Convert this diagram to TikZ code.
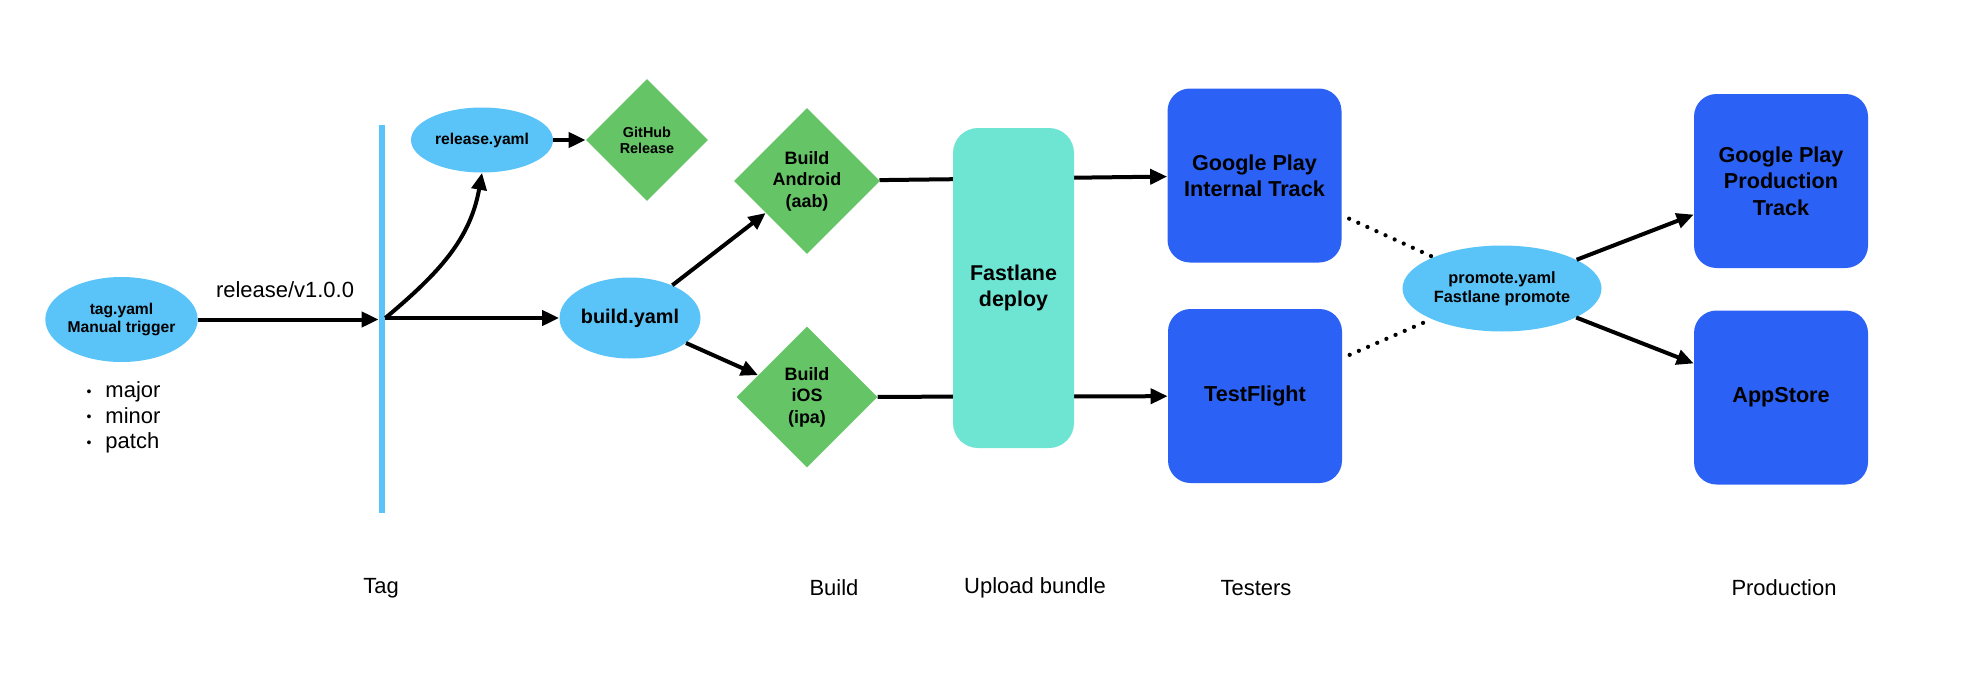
\documentclass[tikz,border=0pt]{standalone}
\usepackage{fontspec}
\setmainfont{Liberation Sans}
\usetikzlibrary{shapes.geometric,arrows.meta,positioning,backgrounds}
\definecolor{yamlcolor}{RGB}{90,196,248}
\definecolor{buildcolor}{RGB}{101,196,102}
\definecolor{fastcolor}{RGB}{110,228,210}
\definecolor{storecolor}{RGB}{44,97,246}
\newcommand{\bumpdot}{\raisebox{0.9pt}{\footnotesize\textbullet}}

\begin{document}
\begin{tikzpicture}[
    yamlnode/.style={ellipse, fill=yamlcolor, inner sep=0pt, align=center, font=\bfseries},
    buildstep/.style={diamond, fill=buildcolor, inner sep=0pt, align=center, font={\bfseries\fontsize{10.2}{12.2}\selectfont}},
    storebox/.style={rectangle, rounded corners=0.45cm, fill=storecolor, minimum width=3.48cm, minimum height=3.48cm, align=center, font={\bfseries\fontsize{12.3}{14.8}\selectfont}},
    stagelabel/.style={font={\fontsize{12.5}{14.5}\selectfont}},
    arrow/.style={->, >={Triangle[length=0.34cm, width=0.3cm]}, line width=0.08cm},
    dotline/.style={line width=0.085cm, line cap=round, dash pattern=on 0pt off 0.2cm, shorten <=0.16cm}
]
\useasboundingbox (0,0) rectangle (39.24,13.9);

% Tag
\node[yamlnode, minimum width=2.82cm, minimum height=1.70cm, font={\bfseries\fontsize{8.9}{10.2}\selectfont}] (tag) at (2.43, 7.51) {tag.yaml\\Manual trigger};
\node[stagelabel] (bumps) at (2.47, 5.54) {\begin{tabular}{@{}l@{\hspace{0.28cm}}l@{}}\bumpdot & major\\ \bumpdot & minor\\ \bumpdot & patch\end{tabular}};
\node[fill=yamlcolor, minimum width=0.12cm, minimum height=7.76cm, inner sep=0pt] (tagbar) at (7.64, 7.52) {};
\node[stagelabel] (branch) at (5.70, 8.10) {release/v1.0.0};
\node[yamlnode, minimum width=2.84cm, minimum height=1.30cm, font={\bfseries\fontsize{8.9}{10}\selectfont}] (release) at (9.64, 11.10) {release.yaml};
\node[buildstep, minimum width=2.44cm, minimum height=2.44cm, font={\bfseries\fontsize{8.2}{9.1}\selectfont}] (github) at (12.94, 11.10) {GitHub\\Release};

% Build
\node[yamlnode, minimum width=2.82cm, minimum height=1.62cm, font={\bfseries\fontsize{11.3}{13}\selectfont}] (build) at (12.60, 7.54) {build.yaml};
\node[buildstep, minimum width=2.92cm, minimum height=2.92cm] (android) at (16.14, 10.28) {Build\\Android\\(aab)};
\node[buildstep, minimum width=2.82cm, minimum height=2.82cm] (ios) at (16.14, 5.96) {Build\\iOS\\(ipa)};

% Upload bundle
\node[rectangle, rounded corners=0.5cm, fill=fastcolor, minimum width=2.42cm, minimum height=6.40cm, align=center, font={\bfseries\fontsize{12.2}{14.8}\selectfont}] (fastlane) at (20.27, 8.14) {Fastlane\\deploy};

% Testers
\node[storebox] (gpint) at (25.09, 10.39) {Google Play\\Internal Track};
\node[storebox] (testflight) at (25.10, 5.98) {TestFlight};
\node[yamlnode, minimum width=3.98cm, minimum height=1.72cm, font={\bfseries\fontsize{9.3}{10.6}\selectfont}] (promote) at (30.04, 8.13) {promote.yaml\\Fastlane promote};

% Production
\node[storebox, font={\bfseries\fontsize{12.3}{15}\selectfont}] (gpprod) at (35.62, 10.28) {Google Play\\Production\\Track};
\node[storebox] (appstore) at (35.62, 5.95) {AppStore};

% Stage labels
\node[stagelabel] (lbltag) at (7.62, 2.14) {Tag};
\node[stagelabel] (lblbuild) at (16.68, 2.14) {Build};
\node[stagelabel] (lblupload) at (20.70, 2.14) {Upload bundle};
\node[stagelabel] (lbltesters) at (25.12, 2.14) {Testers};
\node[stagelabel] (lblprod) at (35.68, 2.14) {Production};

% Connectors
\coordinate (split) at (tagbar.east |- build);
\draw[arrow] (tag) -- (tag -| tagbar.west);
\draw[arrow] (split) -- (build);
\draw[arrow] (split) to[out=40, in=-100] (release.south);
\draw[arrow] (release) -- (github);
\draw[arrow] (build) -- (android);
\draw[arrow] (build) -- (ios);
\begin{scope}[on background layer]
    \draw[arrow] (android) -- (gpint);
    \draw[arrow] (ios) -- (testflight);
\end{scope}
\draw[dotline] (gpint) -- (promote);
\draw[dotline] (testflight) -- (promote);
\draw[arrow] (promote) -- (gpprod);
\draw[arrow] (promote) -- (appstore);

\end{tikzpicture}
\end{document}
